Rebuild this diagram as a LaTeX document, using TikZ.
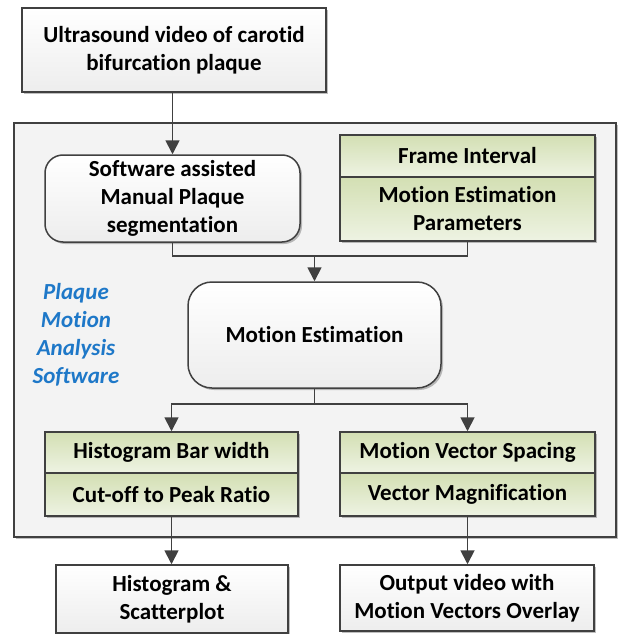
\documentclass[tikz,border=0pt]{standalone}
\usepackage{fontspec}
\setmainfont[Ligatures=NoCommon]{Carlito}
\usetikzlibrary{arrows.meta,shadows,calc}
\definecolor{linec}{HTML}{404040}
\definecolor{frameback}{HTML}{F3F3F3}
\definecolor{greentop}{HTML}{D3DFB3}
\definecolor{greenbot}{HTML}{EEF3E3}
\definecolor{boxbot}{HTML}{EDEDED}
\definecolor{bluetxt}{HTML}{1E78C8}
\tikzset{
  shad/.style={drop shadow={shadow xshift=2pt,shadow yshift=-2pt,opacity=0.25,fill=black}},
  basebox/.style={draw=linec,line width=1.5pt,align=center,inner sep=0pt,
    font=\fontsize{23}{28}\selectfont\bfseries,text=black},
  plainbox/.style={basebox,shad,top color=white,bottom color=boxbot},
  roundbox/.style={plainbox,rounded corners=18pt},
  greencell/.style={basebox,top color=greentop,bottom color=greenbot},
  framebox/.style={draw=linec,line width=1.5pt,fill=frameback,shad,inner sep=0pt},
  conn/.style={draw=linec,line width=1.8pt},
  arr/.style={conn,-{Triangle[length=14pt,width=14pt]}},
}
\begin{document}
\begin{tikzpicture}[x=1pt,y=-1pt]
\useasboundingbox (0,0) rectangle (618,634);
% outer frame
\node[framebox,minimum width=602,minimum height=414] (frame) at (315,330) {};
% top input
\node[plainbox,minimum width=304,minimum height=84] (top) at (174,50)
  {Ultrasound video of carotid\\bifurcation plaque};
% segmentation
\node[roundbox,minimum width=255,minimum height=87] (seg) at (172.5,198.5)
  {Software assisted\\Manual Plaque\\segmentation};
% parameter box top right
\node[greencell,shad,minimum width=255,minimum height=106] (parbg) at (467.5,188) {};
\node[greencell,minimum width=255,minimum height=42] (fi) at (467.5,156) {Frame Interval};
\node[greencell,minimum width=255,minimum height=64] (mep) at (467.5,209)
  {Motion Estimation\\Parameters};
% motion estimation
\node[plainbox,rounded corners=24pt,minimum width=253,minimum height=106] (me) at (314.5,335)
  {Motion Estimation};
% blue label
\node[align=center,text=bluetxt,font=\fontsize{23}{28}\selectfont\bfseries\itshape] (lbl) at (76,335)
  {Plaque\\Motion\\Analysis\\Software};
% lower left parameters
\node[greencell,shad,minimum width=253,minimum height=84] (hbg) at (171.5,474) {};
\node[greencell,minimum width=253,minimum height=41] (hbw) at (171.5,452.5) {Histogram Bar width};
\node[greencell,minimum width=253,minimum height=43] (cpr) at (171.5,494.5) {Cut-off to Peak Ratio};
% lower right parameters
\node[greencell,shad,minimum width=255,minimum height=84] (vbg) at (467.5,474) {};
\node[greencell,minimum width=255,minimum height=41] (mvs) at (467.5,452.5) {Motion Vector Spacing};
\node[greencell,minimum width=255,minimum height=43] (vm) at (467.5,494.5) {Vector Magnification};
% outputs
\node[plainbox,minimum width=232,minimum height=68] (hist) at (172,599)
  {Histogram \&\\Scatterplot};
\node[plainbox,minimum width=254,minimum height=66] (vid) at (467,598)
  {Output video with\\Motion Vectors Overlay};
% connectors
\coordinate (j1) at (314.5,256);
\coordinate (j2) at (314.5,404);
\draw[arr] (top.south -| seg.north) -- (seg.north);
\draw[conn] (seg.south) |- (j1) -| (mep.south);
\draw[arr] (j1) -- (me.north);
\draw[conn] (me.south) -- (j2);
\draw[arr] (j2) -| (hbw.north);
\draw[arr] (j2) -| (mvs.north);
\draw[arr] (cpr.south) -- (cpr.south |- hist.north);
\draw[arr] (vm.south) -- (vm.south |- vid.north);
\end{tikzpicture}
\end{document}
